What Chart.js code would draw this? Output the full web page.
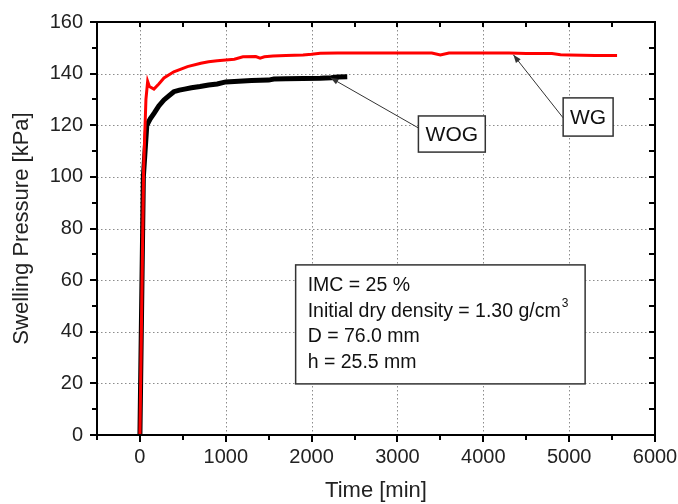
<!DOCTYPE html>
<html>
<head>
<meta charset="utf-8">
<script src="https://cdn.jsdelivr.net/npm/chart.js@4.4.0/dist/chart.umd.min.js"></script>
<style>
  html, body { margin: 0; padding: 0; background: #fff; }
  #wrap { width: 678px; height: 504px; }
</style>
</head>
<body>
<div id="wrap"><canvas id="chart" width="678" height="504"></canvas></div>
<script>
// WOG (without geotextile) - black
const wogTime = [0, 40, 80, 120, 166, 220, 280, 340, 395, 460, 520, 600, 700, 800, 900, 1000, 1150, 1300, 1500, 1560, 1700, 1900, 2100, 2230, 2300, 2415];
const wogPressure = [0, 100, 120, 122.5, 124.7, 127.5, 129.8, 131.5, 133, 133.6, 134, 134.5, 135, 135.6, 136, 136.8, 137, 137.3, 137.5, 137.9, 138, 138.1, 138.2, 138.4, 138.7, 138.8];

// WG (with geotextile) - red
const wgTime = [0, 43, 70, 90, 110, 163, 220, 280, 395, 554, 709, 800, 900, 1000, 1100, 1200, 1350, 1400, 1450, 1550, 1700, 1900, 2000, 2100, 2300, 2600, 3000, 3400, 3500, 3600, 4000, 4300, 4500, 4800, 4900, 5000, 5300, 5558];
const wgPressure = [0, 103, 130, 137, 135, 134, 136, 138.3, 140.7, 142.7, 144, 144.6, 145, 145.3, 145.6, 146.5, 146.6, 146, 146.5, 146.8, 147, 147.2, 147.5, 147.9, 148, 148, 148, 148, 147.2, 148, 148, 148, 147.8, 147.8, 147.3, 147.2, 147, 147];

const xMin = -500, xMax = 6000, xStep = 500;
const yMin = 0, yMax = 160, yStep = 10;

const infoLines = ['IMC = 25 %', 'Initial dry density = 1.30 g/cm', 'D = 76.0 mm', 'h = 25.5 mm'];

const FONT = '"Liberation Sans", Arial, sans-serif';

function toPoints(xs, ys) {
  return xs.map((x, i) => ({ x: x, y: ys[i] }));
}

function arrow(ctx, x1, y1, x2, y2) {
  ctx.beginPath();
  ctx.moveTo(x1, y1);
  ctx.lineTo(x2, y2);
  ctx.stroke();
  const a = Math.atan2(y2 - y1, x2 - x1);
  const len = 8, w = 3;
  ctx.beginPath();
  ctx.moveTo(x2, y2);
  ctx.lineTo(x2 - len * Math.cos(a) + w * Math.sin(a), y2 - len * Math.sin(a) - w * Math.cos(a));
  ctx.lineTo(x2 - len * Math.cos(a) - w * Math.sin(a), y2 - len * Math.sin(a) + w * Math.cos(a));
  ctx.closePath();
  ctx.fill();
}

// dotted grid at major ticks, drawn under the data
const gridPlugin = {
  id: 'dotgrid',
  beforeDatasetsDraw(chart) {
    const ctx = chart.ctx;
    const a = chart.chartArea;
    const xs = chart.scales.x, ys = chart.scales.y;
    ctx.save();
    ctx.strokeStyle = '#8c8c8c';
    ctx.lineWidth = 1;
    ctx.setLineDash([1.5, 2.5]);
    ctx.beginPath();
    for (let v = 0; v < xMax; v += 1000) {
      const px = Math.round(xs.getPixelForValue(v)) + 0.5;
      ctx.moveTo(px, a.top);
      ctx.lineTo(px, a.bottom);
    }
    for (let v = 20; v < yMax; v += 20) {
      const py = Math.round(ys.getPixelForValue(v)) + 0.5;
      ctx.moveTo(a.left, py);
      ctx.lineTo(a.right, py);
    }
    ctx.stroke();
    ctx.restore();
  }
};

const framePlugin = {
  id: 'frame',
  afterDatasetsDraw(chart) {
    const ctx = chart.ctx;
    const a = chart.chartArea;
    const xs = chart.scales.x, ys = chart.scales.y;
    ctx.save();
    ctx.strokeStyle = '#000';
    ctx.fillStyle = '#000';

    // ticks
    ctx.lineWidth = 2;
    ctx.beginPath();
    for (let v = xMin; v <= xMax; v += xStep) {
      const px = Math.round(xs.getPixelForValue(v));
      const major = v % 1000 === 0;
      ctx.moveTo(px, a.bottom);
      ctx.lineTo(px, a.bottom + (major ? 7 : 5));
      ctx.moveTo(px, a.top);
      ctx.lineTo(px, a.top + 5);
    }
    for (let v = yMin; v <= yMax; v += yStep) {
      const py = Math.round(ys.getPixelForValue(v));
      const major = v % 20 === 0;
      ctx.moveTo(a.left, py);
      ctx.lineTo(a.left - (major ? 7 : 5), py);
      ctx.moveTo(a.right, py);
      ctx.lineTo(a.right - 6, py);
    }
    ctx.stroke();

    // frame
    ctx.lineWidth = 2;
    ctx.strokeRect(a.left, a.top, a.right - a.left, a.bottom - a.top);

    // annotations
    ctx.lineWidth = 1;
    ctx.strokeStyle = '#333';
    ctx.fillStyle = '#333';
    const px = v => xs.getPixelForValue(v);
    const py = v => ys.getPixelForValue(v);

    // WOG label
    let bx1 = px(3244), bx2 = px(4023), by1 = py(123.6), by2 = py(109.6);
    arrow(ctx, bx1, by1 + 12, px(2220), py(138.4));
    ctx.fillStyle = '#fff';
    ctx.fillRect(bx1, by1, bx2 - bx1, by2 - by1);
    ctx.lineWidth = 1.5;
    ctx.strokeRect(bx1, by1, bx2 - bx1, by2 - by1);
    ctx.fillStyle = '#111';
    ctx.font = '21px ' + FONT;
    ctx.textAlign = 'center';
    ctx.textBaseline = 'middle';
    ctx.fillText('WOG', (bx1 + bx2) / 2, (by1 + by2) / 2 + 1);

    // WG label
    ctx.lineWidth = 1;
    ctx.fillStyle = '#333';
    bx1 = px(4930); bx2 = px(5512); by1 = py(130.6); by2 = py(115.8);
    arrow(ctx, bx1, by1 + 20, px(4350), py(147.3));
    ctx.fillStyle = '#fff';
    ctx.fillRect(bx1, by1, bx2 - bx1, by2 - by1);
    ctx.lineWidth = 1.5;
    ctx.strokeRect(bx1, by1, bx2 - bx1, by2 - by1);
    ctx.fillStyle = '#111';
    ctx.fillText('WG', (bx1 + bx2) / 2, (by1 + by2) / 2 + 1);

    // info box
    bx1 = px(1814); bx2 = px(5186); by1 = py(65.9); by2 = py(19.8);
    ctx.fillStyle = '#fff';
    ctx.fillRect(bx1, by1, bx2 - bx1, by2 - by1);
    ctx.strokeStyle = '#333';
    ctx.lineWidth = 1.5;
    ctx.strokeRect(bx1, by1, bx2 - bx1, by2 - by1);
    ctx.fillStyle = '#111';
    ctx.font = '19.5px ' + FONT;
    ctx.textAlign = 'left';
    ctx.textBaseline = 'middle';
    infoLines.forEach((t, i) => {
      ctx.fillText(t, bx1 + 12, by1 + 21 + i * 25.5);
    });
    const w = ctx.measureText(infoLines[1]).width;
    ctx.font = '12px ' + FONT;
    ctx.fillText('3', bx1 + 12 + w + 1, by1 + 21 + 25.5 - 8);
    ctx.restore();
  }
};

new Chart(document.getElementById('chart'), {
  type: 'scatter',
  data: {
    datasets: [
      {
        label: 'WG',
        data: toPoints(wgTime, wgPressure),
        showLine: true,
        borderColor: '#ff0000',
        backgroundColor: '#ff0000',
        borderWidth: 3,
        pointRadius: 0,
        tension: 0
      },
      {
        label: 'WOG',
        data: toPoints(wogTime, wogPressure),
        showLine: true,
        borderColor: '#000000',
        backgroundColor: '#000000',
        borderWidth: 5,
        pointRadius: 0,
        tension: 0
      }
    ]
  },
  options: {
    responsive: false,
    animation: false,
    layout: { padding: { left: 0, right: 23, top: 22, bottom: 0 } },
    plugins: {
      legend: { display: false },
      tooltip: { enabled: false }
    },
    scales: {
      x: {
        type: 'linear',
        min: xMin,
        max: xMax,
        afterFit: s => {
          s.height = 69;
          s.paddingLeft = 0;
          s.paddingRight = 0;
        },
        afterBuildTicks: s => {
          s.ticks = [];
          for (let v = 0; v <= xMax; v += 1000) s.ticks.push({ value: v });
        },
        border: { display: false },
        grid: { display: false, drawTicks: false },
        ticks: {
          padding: 10,
          color: '#222',
          font: { family: FONT, size: 20 },
          maxRotation: 0,
          callback: v => String(v)
        },
        title: {
          display: true,
          text: 'Time [min]',
          color: '#222',
          font: { family: FONT, size: 22 },
          padding: { top: 4, bottom: 0 }
        }
      },
      y: {
        type: 'linear',
        min: yMin,
        max: yMax,
        afterFit: s => {
          s.width = 97;
          s.paddingTop = 0;
          s.paddingBottom = 0;
        },
        afterBuildTicks: s => {
          s.ticks = [];
          for (let v = 0; v <= yMax; v += 20) s.ticks.push({ value: v });
        },
        border: { display: false },
        grid: { display: false, drawTicks: false },
        ticks: {
          padding: 14,
          color: '#222',
          font: { family: FONT, size: 20 },
          callback: v => String(v)
        },
        title: {
          display: true,
          text: 'Swelling Pressure [kPa]',
          color: '#222',
          font: { family: FONT, size: 22 },
          padding: { top: 9, bottom: 0 }
        }
      }
    }
  },
  plugins: [gridPlugin, framePlugin]
});
</script>
</body>
</html>
